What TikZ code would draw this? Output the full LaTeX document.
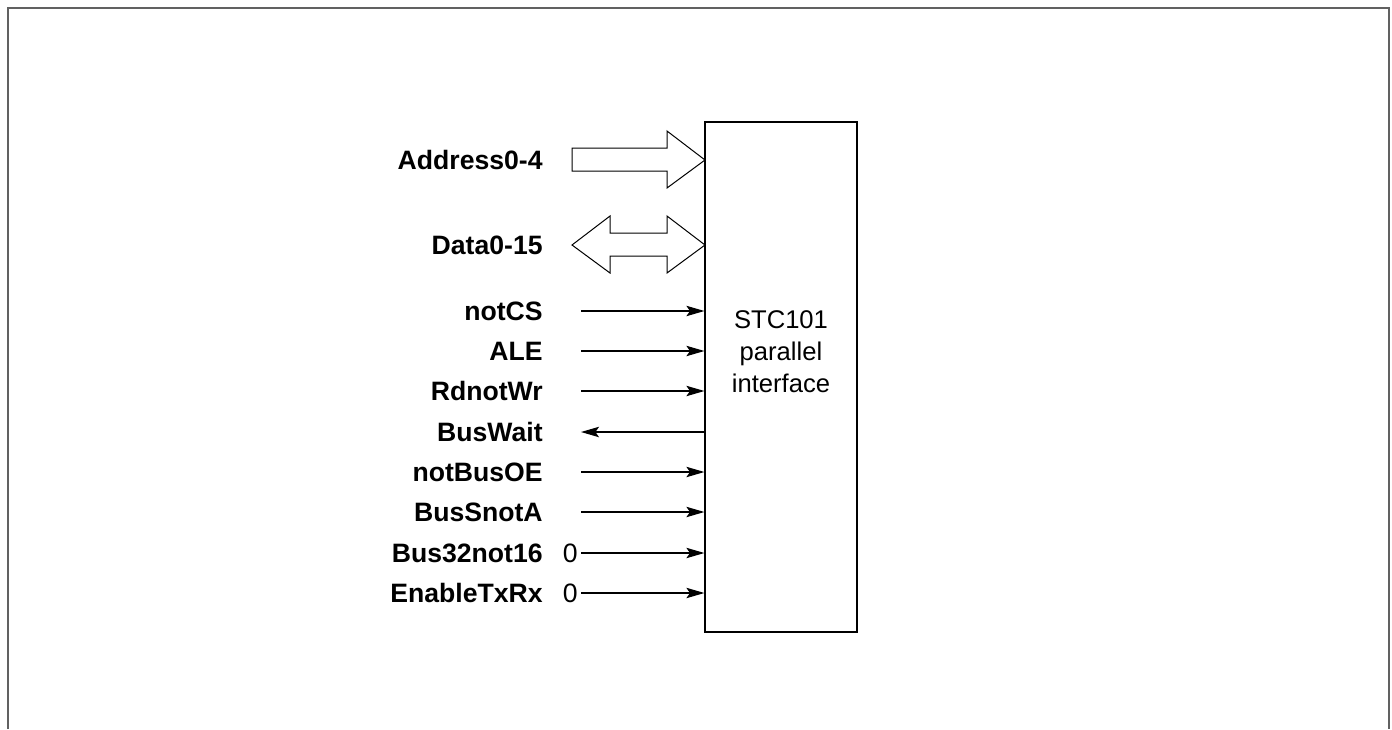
\documentclass[tikz,border=0pt]{standalone}
\usepackage{fontspec}
\setmainfont{Liberation Sans}
\usetikzlibrary{arrows.meta}
\begin{document}
\begin{tikzpicture}[x=0.5pt,y=-0.5pt,
  lbl/.style={anchor=base east, inner sep=0pt, font=\fontsize{13.3}{16}\selectfont\bfseries},
  zero/.style={anchor=base east, inner sep=0pt, font=\fontsize{13.3}{16}\selectfont},
  sig/.style={line width=0.65pt, -{Stealth[length=9pt,width=5.2pt,inset=1.8pt]}},
  blk/.style={draw, line width=0.5pt, line join=miter},
  frame/.style={draw=black!62, line width=1pt}]
\useasboundingbox (0,0) rectangle (1392,729);
\draw[frame] (8,729) -- (8,8) -- (1389,8) -- (1389,729);
\node[draw, line width=0.6pt, minimum width=76pt, minimum height=255pt, inner sep=0pt] (ifc) at (781,377) {};
\node[align=center, inner sep=0pt, font=\fontsize{12.8}{16}\selectfont] (ifctext) at (781,352) {STC101\\parallel\\interface};
% block arrows
\draw[blk] (572,148) -- (667,148) -- (667,131) -- (705,160) -- (667,188) -- (667,171) -- (572,171) -- cycle;
\draw[blk] (572,245) -- (610,216) -- (610,233) -- (667,233) -- (667,216) -- (705,245) -- (667,273) -- (667,256) -- (610,256) -- (610,273) -- cycle;
\node[lbl] (laddr) at (543,169.5) {Address0-4};
\node[lbl] (ldata) at (543,254.5) {Data0-15};
% signal labels
\node[lbl] (lcs) at (543,320.5) {notCS};
\node[lbl] (lale) at (543,360.5) {ALE};
\node[lbl] (lrw) at (543,400.5) {RdnotWr};
\node[lbl] (lwait) at (543,441.5) {BusWait};
\node[lbl] (loe) at (543,481.5) {notBusOE};
\node[lbl] (lsa) at (543,521.5) {BusSnotA};
\node[lbl] (l32) at (543,562.5) {Bus32not16};
\node[lbl] (len) at (543,602.5) {EnableTxRx};
\node[zero] (z32) at (578,562.5) {0};
\node[zero] (zen) at (578,602.5) {0};
% start points
\coordinate (scs) at (581,311);
\coordinate (sale) at (581,351);
\coordinate (srw) at (581,391);
\coordinate (swait) at (581,432);
\coordinate (soe) at (581,472);
\coordinate (ssa) at (581,512);
\coordinate (s32) at (581,553);
\coordinate (sen) at (581,593);
\draw[sig] (scs) -- (ifc.west |- scs);
\draw[sig] (sale) -- (ifc.west |- sale);
\draw[sig] (srw) -- (ifc.west |- srw);
\draw[sig] (ifc.west |- swait) -- (swait);
\draw[sig] (soe) -- (ifc.west |- soe);
\draw[sig] (ssa) -- (ifc.west |- ssa);
\draw[sig] (s32) -- (ifc.west |- s32);
\draw[sig] (sen) -- (ifc.west |- sen);
\end{tikzpicture}
\end{document}
